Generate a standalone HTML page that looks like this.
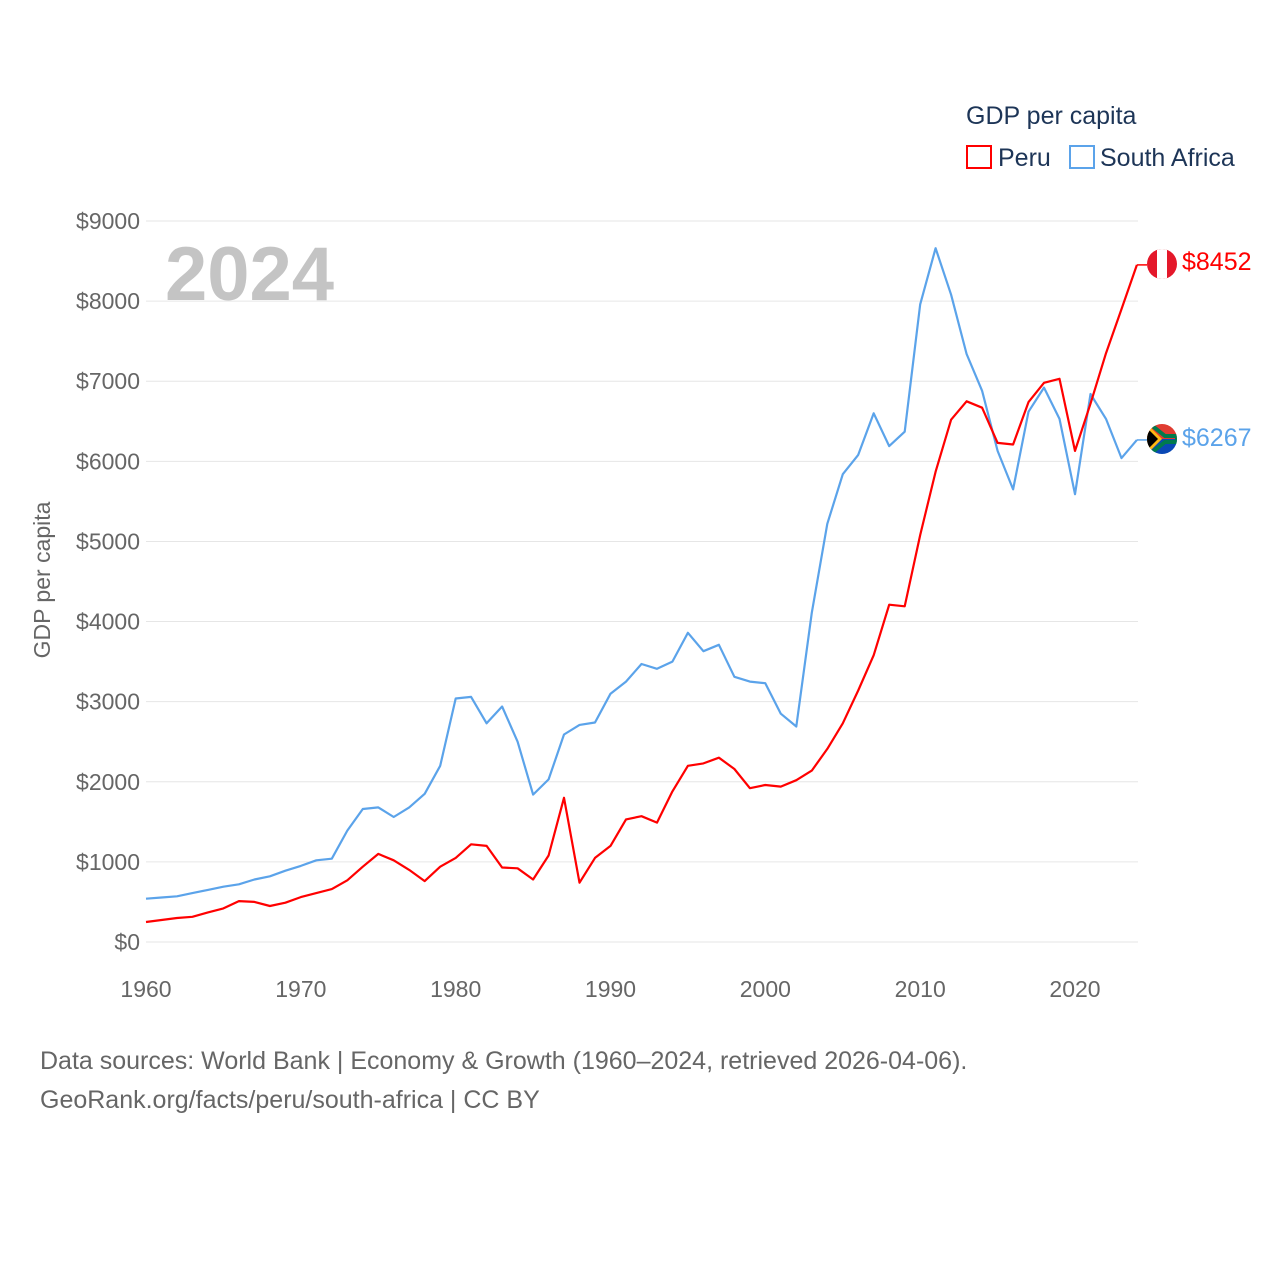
<!DOCTYPE html>
<html><head><meta charset="utf-8"><style>
body{margin:0;background:#fff;}
svg{display:block;font-family:"Liberation Sans",sans-serif;}
</style></head><body>
<svg id="chart" width="1280" height="1280" viewBox="0 0 1280 1280">
<text x="966" y="124" font-size="25" fill="#1d3557">GDP per capita</text>
<g><rect x="967" y="146" width="24" height="22" fill="none" stroke="#ff0000" stroke-width="2"/><text x="998" y="166" font-size="25" fill="#1d3557">Peru</text></g>
<g><rect x="1070" y="146" width="24" height="22" fill="none" stroke="#5ba3ea" stroke-width="2"/><text x="1100" y="166" font-size="25" fill="#1d3557">South Africa</text></g>
<g id="grid"></g>
<g id="yticks"></g>
<g id="xticks"></g>
<text x="165" y="300" font-size="76" font-weight="bold" fill="#c4c4c4">2024</text>
<text transform="translate(50,580) rotate(-90)" text-anchor="middle" font-size="23" fill="#666">GDP per capita</text>
<g id="series"></g>
<g>
<clipPath id="c1"><circle cx="1162" cy="264" r="15"/></clipPath>
<g clip-path="url(#c1)"><rect x="1147" y="249" width="30" height="30" fill="#e4182a"/><rect x="1157" y="249" width="10" height="30" fill="#fff"/></g></g>
<g>
<clipPath id="c2"><circle cx="1162" cy="439" r="15"/></clipPath>
<g clip-path="url(#c2)"><rect x="1147" y="424" width="30" height="15" fill="#e03c31"/><rect x="1147" y="439" width="30" height="15" fill="#0a48b5"/><path d="M1147 424 L1162 439 L1147 454 Z" fill="#ffb612"/><path d="M1147 428 L1158 439 L1147 450 Z" fill="#000"/><path d="M1150 424 L1165 436 L1177 436 L1177 442 L1165 442 L1150 454" fill="none" stroke="#007a4d" stroke-width="4"/></g></g>
<text x="1182" y="270" font-size="25" fill="#ff0000">$8452</text>
<text x="1182" y="446" font-size="25" fill="#5ba3ea">$6267</text>
<text x="40" y="1069" font-size="25" fill="#666">Data sources: World Bank | Economy &amp; Growth (1960–2024, retrieved 2026-04-06).</text>
<text x="40" y="1108" font-size="25" fill="#666">GeoRank.org/facts/peru/south-africa | CC BY</text>
</svg>
<script>
const years=[];for(let y=1960;y<=2024;y++)years.push(y);
const peru=[250,275,300,315,370,420,510,500,450,490,560,610,660,770,940,1100,1020,900,760,940,1050,1220,1200,930,920,780,1080,1800,740,1050,1200,1530,1570,1490,1880,2200,2230,2300,2160,1920,1960,1940,2020,2140,2410,2730,3140,3580,4210,4190,5080,5870,6520,6750,6670,6230,6210,6740,6980,7030,6130,6720,7350,7900,8452];
const southAfrica=[540,555,570,610,650,690,720,780,820,890,950,1020,1040,1390,1660,1680,1560,1680,1850,2200,3040,3060,2730,2940,2500,1840,2030,2590,2710,2740,3100,3250,3470,3410,3500,3860,3630,3710,3310,3250,3230,2850,2690,4110,5220,5840,6080,6600,6190,6370,7960,8660,8080,7340,6880,6130,5650,6620,6920,6530,5590,6840,6530,6040,6267];
const yTicks=[0,1000,2000,3000,4000,5000,6000,7000,8000,9000];
const xTicks=[1960,1970,1980,1990,2000,2010,2020];
const NS="http://www.w3.org/2000/svg";
const xs=y=>146+(y-1960)*(1075-146)/60;
const ys=v=>942-v*(942-221)/9000;
function mk(t,a,p){const e=document.createElementNS(NS,t);for(const k in a)e.setAttribute(k,a[k]);p.appendChild(e);return e;}
const grid=document.getElementById('grid'),yt=document.getElementById('yticks'),xt=document.getElementById('xticks'),ser=document.getElementById('series');
yTicks.forEach(v=>{
 const l=mk('line',{x1:146,x2:1138,y1:ys(v),y2:ys(v),stroke:'#e6e6e6','stroke-width':1},grid);
 
 
 const t=mk('text',{x:140,y:ys(v)+8,'text-anchor':'end','font-size':23,fill:'#666'},yt);
 t.textContent='$'+v;
 
 
});
xTicks.forEach(v=>{
 const t=mk('text',{x:xs(v),y:997,'text-anchor':'middle','font-size':23,fill:'#666'},xt);
 t.textContent=v;
 
 
});
function line(vals,color,name){
 const pts=vals.map((v,i)=>xs(years[i]).toFixed(1)+','+ys(v).toFixed(1)).join(' ');
 const p=mk('polyline',{points:pts,fill:'none',stroke:color,'stroke-width':2.2,'stroke-linejoin':'round'},ser);
 
 
 const last=vals[vals.length-1];
 const l=mk('line',{x1:xs(2024),x2:1147,y1:ys(last),y2:ys(last),stroke:color,'stroke-width':1.5},ser);
 
 
}
line(southAfrica,'#5ba3ea','south-africa-line');
line(peru,'#ff0000','peru-line');
</script>
</body></html>
